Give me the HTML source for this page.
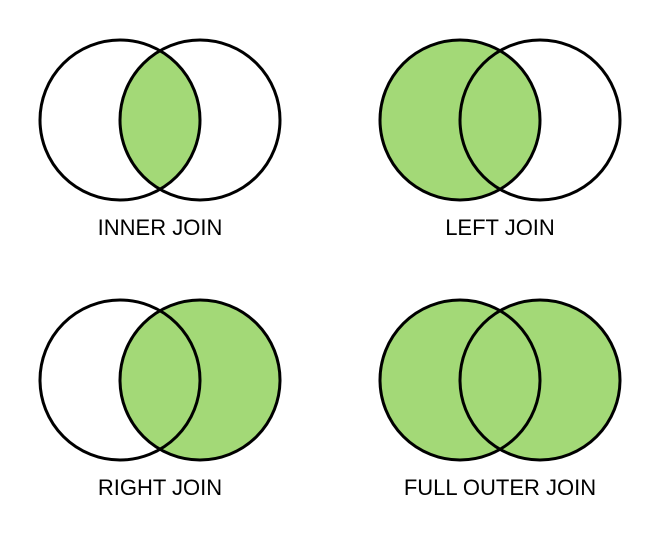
<!DOCTYPE html>
<html><head><meta charset="utf-8"><style>
html,body{margin:0;padding:0;background:#fff;width:660px;height:560px;overflow:hidden}
</style></head><body>
<svg width="660" height="560" viewBox="0 0 660 560" xmlns="http://www.w3.org/2000/svg">
<g fill="#a3d977" stroke="none">
<path d="M160,50.72 A80,80 0 0 1 160,189.28 A80,80 0 0 1 160,50.72 Z"/>
<circle cx="460" cy="120" r="80"/>
<circle cx="200" cy="380" r="80"/>
<circle cx="460" cy="380" r="80"/>
<circle cx="540" cy="380" r="80"/>
</g>
<g fill="none" stroke="#000" stroke-width="3">
<circle cx="120" cy="120" r="80"/><circle cx="200" cy="120" r="80"/>
<circle cx="460" cy="120" r="80"/><circle cx="540" cy="120" r="80"/>
<circle cx="120" cy="380" r="80"/><circle cx="200" cy="380" r="80"/>
<circle cx="460" cy="380" r="80"/><circle cx="540" cy="380" r="80"/>
</g>
<g font-family="Liberation Sans, sans-serif" font-size="22" fill="#000" text-anchor="middle">
<text x="160" y="235">INNER JOIN</text>
<text x="500" y="235">LEFT JOIN</text>
<text x="160" y="495">RIGHT JOIN</text>
<text x="500" y="495">FULL OUTER JOIN</text>
</g>
</svg>
</body></html>
